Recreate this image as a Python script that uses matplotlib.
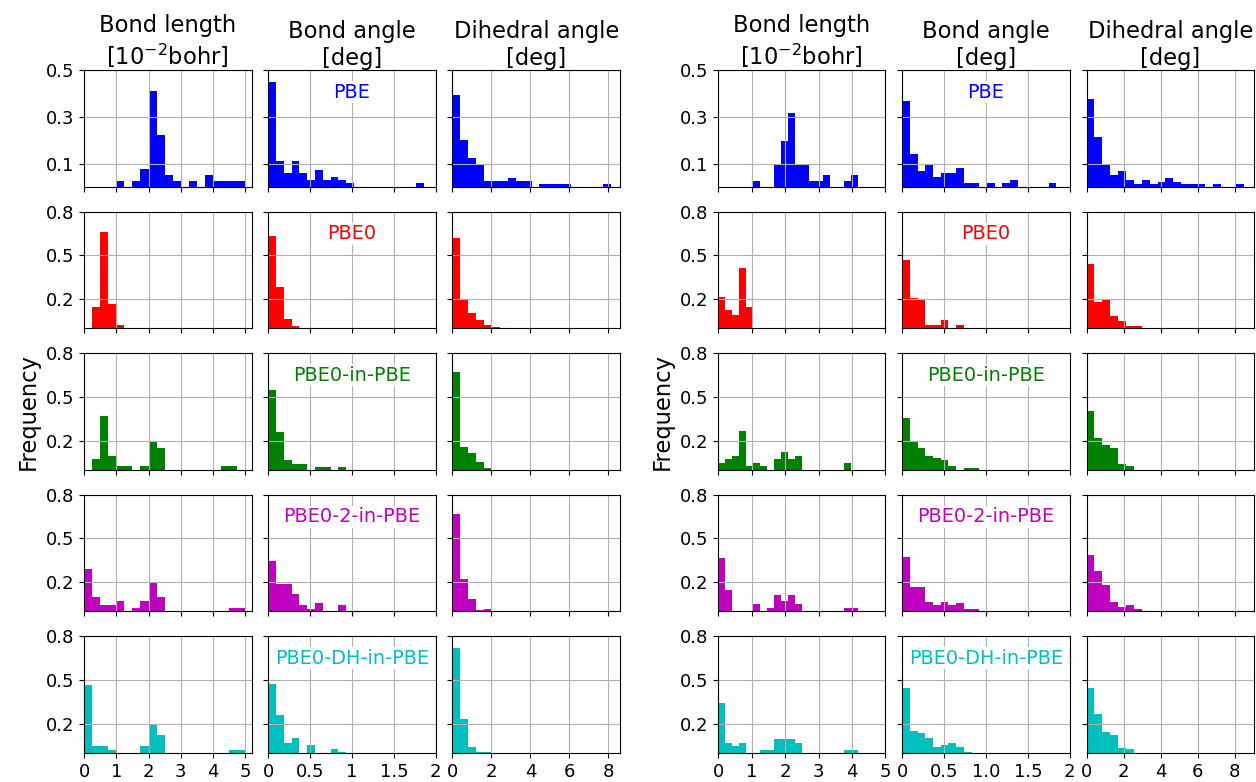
import numpy as np
import matplotlib.pyplot as plt

methods = ["PBE", "PBE0", "PBE0-in-PBE", "PBE0-2-in-PBE", "PBE0-DH-in-PBE"]
colors = ["b", "r", "g", "m", "c"]
titles = ["Bond length\n[$10^{-2}$bohr]", "Bond angle\n[deg]", "Dihedral angle\n[deg]"]

# frequency per bin (20 equal bins from 0 to bin_hi), one list per method
left_bond_len = [
    [0, 0, 0, 0, 0.026, 0, 0.026, 0.075, 0.41, 0.22, 0.051, 0.026, 0, 0.026, 0, 0.051, 0.026, 0.026, 0.026, 0.026],
    [0, 0.145, 0.66, 0.17, 0.025],
    [0, 0.073, 0.368, 0.098, 0.025, 0.025, 0, 0.025, 0.198, 0.148, 0, 0, 0, 0, 0, 0, 0, 0.025, 0.025],
    [0.29, 0.098, 0.045, 0.045, 0.07, 0, 0.023, 0.07, 0.195, 0.098, 0, 0, 0, 0, 0, 0, 0, 0, 0.023, 0.023],
    [0.467, 0.048, 0.048, 0.02, 0, 0, 0, 0.048, 0.2, 0.121, 0, 0, 0, 0, 0, 0, 0, 0, 0.02, 0.02],
]
left_bond_ang = [
    [0.448, 0.11, 0.058, 0.11, 0.058, 0.029, 0.072, 0.029, 0.044, 0.029, 0.015, 0, 0, 0, 0, 0, 0, 0, 0, 0.015],
    [0.632, 0.286, 0.068, 0.016],
    [0.55, 0.261, 0.068, 0.043, 0.043, 0, 0.018, 0.018, 0, 0.018],
    [0.343, 0.19, 0.19, 0.123, 0.041, 0.014, 0.055, 0, 0, 0.041],
    [0.469, 0.261, 0.066, 0.105, 0, 0.053, 0, 0, 0.025, 0.009],
]
left_dihedral = [
    [0.392, 0.2, 0.125, 0.1, 0.024, 0.024, 0.024, 0.04, 0.024, 0.024, 0, 0.013, 0.013, 0.013, 0.013, 0, 0, 0, 0, 0.013],
    [0.618, 0.2, 0.107, 0.055, 0.023, 0.011],
    [0.668, 0.155, 0.116, 0.055, 0.011],
    [0.666, 0.22, 0.086, 0.009, 0.02],
    [0.719, 0.233, 0.039, 0.007, 0.007],
]
right_bond_len = [
    [0, 0, 0, 0, 0, 0.026, 0, 0, 0.1, 0.198, 0.317, 0.1, 0.1, 0.026, 0.026, 0.05, 0, 0, 0.026, 0.05],
    [0.218, 0.123, 0.095, 0.414, 0.148],
    [0.048, 0.073, 0.098, 0.27, 0.025, 0.048, 0.025, 0, 0.073, 0.12, 0.073, 0.098, 0, 0, 0, 0, 0, 0, 0.048],
    [0.366, 0.145, 0, 0, 0, 0.048, 0, 0.023, 0.114, 0.073, 0.114, 0.048, 0, 0, 0, 0, 0, 0, 0.023, 0.023],
    [0.341, 0.071, 0.048, 0.071, 0, 0, 0.02, 0.02, 0.098, 0.098, 0.098, 0.071, 0, 0, 0, 0, 0, 0, 0.02, 0.02],
]
right_bond_ang = [
    [0.368, 0.139, 0.07, 0.097, 0.044, 0.058, 0.058, 0.083, 0.019, 0.019, 0, 0.019, 0, 0.019, 0.029, 0, 0, 0, 0, 0.019],
    [0.466, 0.205, 0.193, 0.027, 0.027, 0.055, 0, 0.027],
    [0.357, 0.193, 0.152, 0.095, 0.084, 0.068, 0.027, 0, 0.016, 0.016],
    [0.37, 0.166, 0.166, 0.068, 0.043, 0.068, 0.043, 0.055, 0.014, 0.014],
    [0.442, 0.149, 0.135, 0.105, 0.039, 0.053, 0.066, 0.039, 0.007],
]
right_dihedral = [
    [0.375, 0.212, 0.1, 0.05, 0.069, 0.029, 0.013, 0.029, 0.013, 0.023, 0.038, 0.023, 0.013, 0.013, 0.013, 0, 0.013, 0, 0, 0.013],
    [0.443, 0.18, 0.195, 0.086, 0.048, 0.02, 0.02],
    [0.405, 0.216, 0.173, 0.148, 0.039, 0.027],
    [0.389, 0.28, 0.184, 0.068, 0.032, 0.043, 0.018],
    [0.442, 0.268, 0.144, 0.121, 0.037, 0.025],
]

nbins = 20
left_bin_hi = [5.0, 1.86, 8.12]
right_bin_hi = [4.18, 1.84, 8.52]
left_xmax = [5.19, 2.0, 8.6]
right_xmax = [5.0, 2.0, 9.04]
xticks = [[0, 1, 2, 3, 4, 5], [0, 0.5, 1, 1.5, 2], [0, 2, 4, 6, 8]]
left_xticklabels = [["0", "1", "2", "3", "4", "5"], ["0", "0.5", "1", "1.5", "2"], ["0", "2", "4", "6", "8"]]
right_xticklabels = [["0", "1", "2", "3", "4", "5"], ["0", "0.5", "1.0", "1.5", "2"], ["0", "2", "4", "6", "8"]]

W, H = 1256, 782
fig = plt.figure(figsize=(W / 100, H / 100), dpi=100)


def draw_group(x0, x1, data, bin_hi, xmax, xtlabels):
    gs = fig.add_gridspec(5, 3, left=x0 / W, right=x1 / W, top=1 - 70 / H,
                          bottom=1 - 753 / H, wspace=0.1, hspace=0.21)
    for r in range(5):
        for c in range(3):
            ax = fig.add_subplot(gs[r, c])
            h = np.array(data[c][r])
            edges = np.linspace(0, bin_hi[c], nbins + 1)[:len(h) + 1]
            ax.bar(edges[:-1], h, width=np.diff(edges), align="edge",
                   color=colors[r], linewidth=0)
            ax.set_xlim(0, xmax[c])
            ax.set_xticks(xticks[c])
            if r == 0:
                ax.set_ylim(0, 0.5)
                ax.set_yticks([0.1, 0.3, 0.5])
                ax.set_title(titles[c], fontsize=16.3, pad=3)
            else:
                ax.set_ylim(0, 0.8)
                ax.set_yticks([0.2, 0.5, 0.8])
            ax.grid(True)
            ax.tick_params(labelsize=13)
            if r == 4:
                ax.set_xticklabels(xtlabels[c])
            else:
                ax.set_xticklabels([])
            if c > 0:
                ax.set_yticklabels([])
            if c == 1:
                ax.text(0.5, 0.81, methods[r], color=colors[r], fontsize=13.9,
                        ha="center", va="center", transform=ax.transAxes,
                        bbox=dict(facecolor="white", edgecolor="none", pad=1))
            if c == 0 and r == 2:
                ax.set_ylabel("Frequency", fontsize=16.3)


draw_group(84, 620, [left_bond_len, left_bond_ang, left_dihedral],
           left_bin_hi, left_xmax, left_xticklabels)
draw_group(718, 1254, [right_bond_len, right_bond_ang, right_dihedral],
           right_bin_hi, right_xmax, right_xticklabels)

fig.savefig("out.png", dpi=100)
